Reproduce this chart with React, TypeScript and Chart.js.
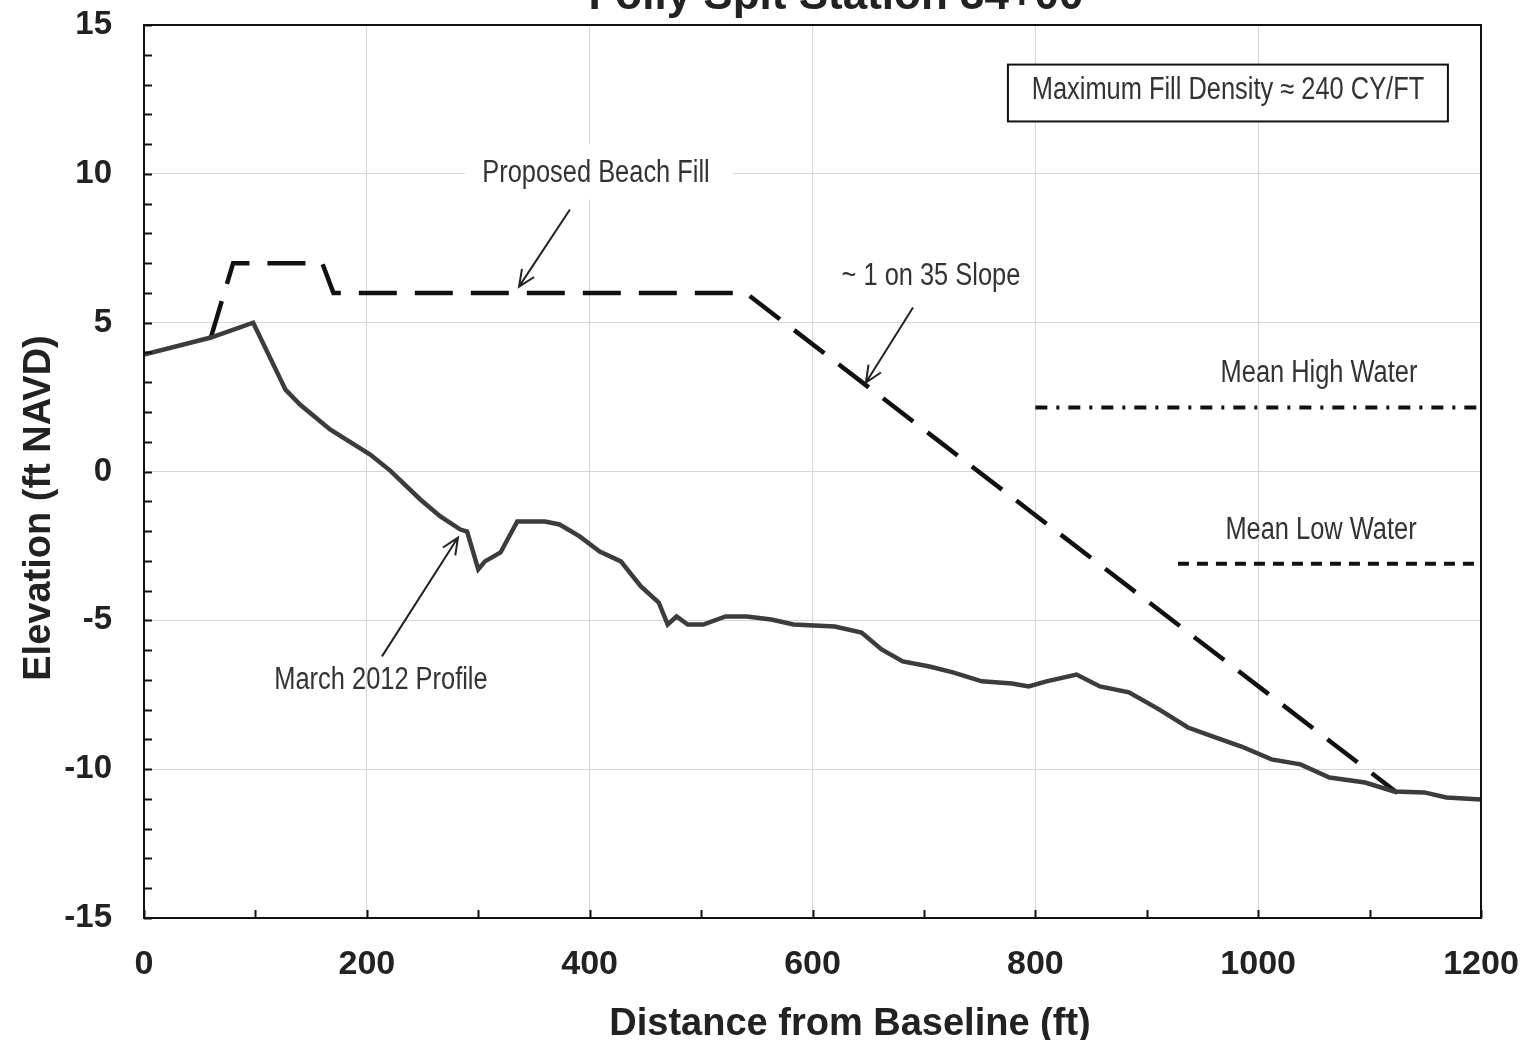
import React, { useEffect, useRef } from "react";
import { Chart, registerables } from "chart.js";

Chart.register(...registerables);

// ---- data ----
const PROFILE_X = [0, 60, 98, 127, 140, 167, 203, 221, 248, 266, 284, 290, 300, 306, 320, 335, 360, 373, 391, 409, 428, 446, 462, 470, 478, 488, 502, 522, 541, 563, 583, 620, 644, 662, 681, 705, 726, 752, 779, 794, 810, 837, 858, 884, 911, 937, 959, 985, 1012, 1038, 1064, 1096, 1122, 1149, 1169, 1200];
const PROFILE_Y = [3.93, 4.5, 5.0, 2.75, 2.25, 1.41, 0.57, 0.03, -0.94, -1.51, -1.95, -2.02, -3.29, -3.02, -2.72, -1.68, -1.68, -1.78, -2.18, -2.69, -3.02, -3.86, -4.4, -5.14, -4.87, -5.14, -5.14, -4.87, -4.87, -4.97, -5.14, -5.21, -5.41, -5.98, -6.38, -6.55, -6.75, -7.05, -7.12, -7.22, -7.05, -6.82, -7.22, -7.42, -7.99, -8.6, -8.9, -9.24, -9.67, -9.84, -10.28, -10.45, -10.75, -10.78, -10.95, -11.02];

const FILL_X = [60, 80, 160, 170, 540, 1125];
const FILL_Y = [4.5, 7, 7, 6, 6, -10.8];

const MHW_X = [800, 1200];
const MHW_Y = [2.15, 2.15];
const MLW_X = [928, 1200];
const MLW_Y = [-3.1, -3.1];

const X_TICK_STEP = 200;
const Y_TICK_STEP = 5;

const TITLE = "Folly Spit Station 34+00";
const X_TITLE = "Distance from Baseline (ft)";
const Y_TITLE = "Elevation (ft NAVD)";
const NOTE_BOX = "Maximum Fill Density \u2248 240 CY/FT";
const LBL_FILL = "Proposed Beach Fill";
const LBL_SLOPE = "~ 1 on 35 Slope";
const LBL_MHW = "Mean High Water";
const LBL_MLW = "Mean Low Water";
const LBL_PROFILE = "March 2012 Profile";

const FONT = "'Liberation Sans', Arial, sans-serif";

const pts = (xs: number[], ys: number[]) => xs.map((x, i) => ({ x, y: ys[i] }));

export default function App() {
  const ref = useRef<HTMLCanvasElement | null>(null);

  useEffect(() => {
    const canvas = ref.current!;
    const narrowText = (ctx: CanvasRenderingContext2D, text: string, cx: number, by: number) => {
      ctx.save();
      ctx.translate(cx, by);
      ctx.scale(0.82, 1);
      ctx.font = `31px ${FONT}`;
      ctx.fillStyle = "#333";
      ctx.textAlign = "center";
      ctx.textBaseline = "alphabetic";
      ctx.fillText(text, 0, 0);
      ctx.restore();
    };
    const arrow = (ctx: CanvasRenderingContext2D, x1: number, y1: number, x2: number, y2: number) => {
      ctx.save();
      ctx.strokeStyle = "#222";
      ctx.lineWidth = 2;
      ctx.beginPath();
      ctx.moveTo(x1, y1);
      ctx.lineTo(x2, y2);
      const a = Math.atan2(y2 - y1, x2 - x1);
      const L = 18, w = 0.42;
      ctx.moveTo(x2 - L * Math.cos(a - w), y2 - L * Math.sin(a - w));
      ctx.lineTo(x2, y2);
      ctx.lineTo(x2 - L * Math.cos(a + w), y2 - L * Math.sin(a + w));
      ctx.stroke();
      ctx.restore();
    };
    const noPad = (s: any) => {
      s.paddingTop = 0;
      s.paddingBottom = 0;
      s.paddingLeft = 0;
      s.paddingRight = 0;
    };

    const deco = {
      id: "deco",
      beforeDatasetsDraw(chart: any) {
        const ctx = chart.ctx as CanvasRenderingContext2D;
        const xs = chart.scales.x, ys = chart.scales.y;
        const X = (v: number) => xs.getPixelForValue(v);
        const Y = (v: number) => ys.getPixelForValue(v);
        ctx.save();
        ctx.fillStyle = "#fff";
        ctx.fillRect(X(288), Y(10.98), X(528.6) - X(288), Y(9.14) - Y(10.98));
        ctx.restore();
        narrowText(ctx, LBL_FILL, X(405.7), Y(9.74));
        narrowText(ctx, LBL_SLOPE, X(706.3), Y(6.28));
        narrowText(ctx, LBL_MHW, X(1054.6), Y(2.99));
        narrowText(ctx, LBL_MLW, X(1056.4), Y(-2.28));
        narrowText(ctx, LBL_PROFILE, X(212.7), Y(-7.32));
        ctx.save();
        ctx.fillStyle = "#fff";
        ctx.strokeStyle = "#111";
        ctx.lineWidth = 2;
        const bx = X(775.4), by = Y(13.67), bw = X(1170.3) - X(775.4), bh = Y(11.76) - Y(13.67);
        ctx.fillRect(bx, by, bw, bh);
        ctx.strokeRect(bx, by, bw, bh);
        ctx.restore();
        narrowText(ctx, NOTE_BOX, X(972.9), Y(12.5));
      },
      afterDraw(chart: any) {
        const ctx = chart.ctx as CanvasRenderingContext2D;
        const xs = chart.scales.x, ys = chart.scales.y;
        const X = (v: number) => xs.getPixelForValue(v);
        const Y = (v: number) => ys.getPixelForValue(v);
        const a = chart.chartArea;
        arrow(ctx, X(382.3), Y(8.8), X(336.6), Y(6.21));
        arrow(ctx, X(690.2), Y(5.51), X(648), Y(2.99));
        arrow(ctx, X(213.6), Y(-6.21), X(281.8), Y(-2.22));
        ctx.save();
        ctx.strokeStyle = "#111";
        ctx.lineWidth = 2;
        ctx.strokeRect(a.left, a.top, a.right - a.left, a.bottom - a.top);
        ctx.beginPath();
        for (let v = -15; v <= 15; v += 1) {
          const py = Math.round(Y(v)) + 0.5;
          ctx.moveTo(a.left, py);
          ctx.lineTo(a.left + 8, py);
        }
        for (let v = 0; v <= 1200; v += 100) {
          const px = Math.round(X(v)) + 0.5;
          ctx.moveTo(px, a.bottom);
          ctx.lineTo(px, a.bottom - 8);
        }
        ctx.stroke();
        ctx.fillStyle = "#222";
        ctx.font = `bold 44px ${FONT}`;
        ctx.textAlign = "center";
        ctx.textBaseline = "alphabetic";
        ctx.fillText(TITLE, 836, 9);
        ctx.font = `bold 38px ${FONT}`;
        ctx.fillText(X_TITLE, 850, 1035);
        ctx.translate(50, 508);
        ctx.rotate(-Math.PI / 2);
        ctx.fillText(Y_TITLE, 0, 0);
        ctx.restore();
      },
    };

    const chart = new Chart(canvas, {
      type: "scatter",
      data: {
        datasets: [
          {
            label: "March 2012 Profile",
            data: pts(PROFILE_X, PROFILE_Y),
            showLine: true,
            borderColor: "#3c3c3c",
            borderWidth: 4.5,
            pointRadius: 0,
            tension: 0,
          },
          {
            label: "Proposed Beach Fill",
            data: pts(FILL_X, FILL_Y),
            showLine: true,
            borderColor: "#111",
            borderWidth: 4.5,
            borderDash: [38, 18],
            pointRadius: 0,
          },
          {
            label: "Mean High Water",
            data: pts(MHW_X, MHW_Y),
            showLine: true,
            borderColor: "#111",
            borderWidth: 4,
            borderDash: [12, 9, 3, 9],
            pointRadius: 0,
          },
          {
            label: "Mean Low Water",
            data: pts(MLW_X, MLW_Y),
            showLine: true,
            borderColor: "#111",
            borderWidth: 4,
            borderDash: [11, 8],
            pointRadius: 0,
          },
        ],
      },
      options: {
        responsive: false,
        animation: false,
        devicePixelRatio: 1,
        layout: { padding: { left: 0, top: 25, right: 47, bottom: 0 } },
        plugins: { legend: { display: false }, tooltip: { enabled: false }, title: { display: false } },
        scales: {
          x: {
            type: "linear",
            min: 0,
            max: 1200,
            ticks: {
              stepSize: X_TICK_STEP,
              padding: 26,
              color: "#222",
              font: { family: FONT, size: 34, weight: "bold" },
              callback: (v: any) => String(v),
            },
            grid: { color: "#d6d6d6", lineWidth: 1, drawTicks: false },
            border: { display: false },
            afterFit: (s: any) => { s.height = 122; noPad(s); },
          },
          y: {
            type: "linear",
            min: -15,
            max: 15,
            ticks: {
              stepSize: Y_TICK_STEP,
              padding: 32,
              color: "#222",
              font: { family: FONT, size: 33, weight: "bold" },
              callback: (v: any) => String(v),
            },
            grid: { color: "#d6d6d6", lineWidth: 1, drawTicks: false },
            border: { display: false },
            afterFit: (s: any) => { s.width = 144; noPad(s); },
          },
        },
      },
      plugins: [deco],
    } as any);
    return () => chart.destroy();
  }, []);

  return (
    <div style={{ position: "fixed", left: 0, top: 0, width: 1528, height: 1040, background: "#fff" }}>
      <canvas ref={ref} width={1528} height={1040} />
    </div>
  );
}
